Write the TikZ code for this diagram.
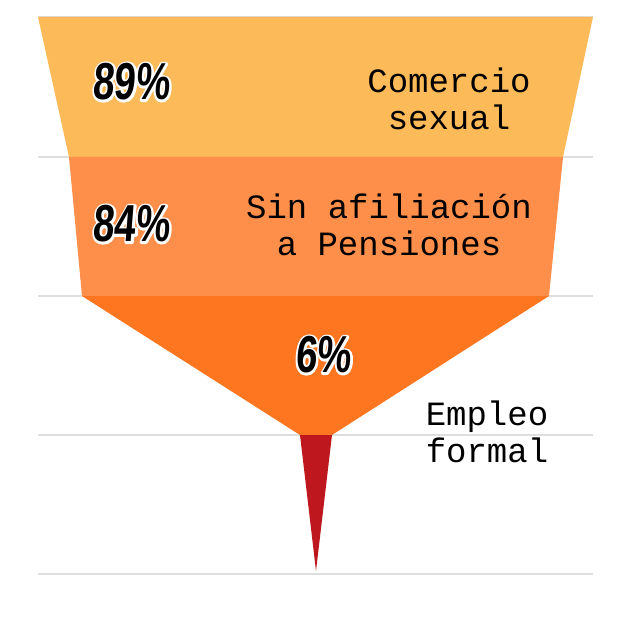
\documentclass[tikz,border=0pt]{standalone}
\usepackage{fontspec}
\newfontfamily\labelfont{Liberation Mono}
\newfontfamily\pctfont[FakeStretch=0.74,FakeSlant=0.08]{Liberation Sans}
% white outline drawn by the text render mode
\newcommand{\strokedtext}[1]{\special{pdf:literal direct 1 Tr 2.2 w 1 j 1 1 1 RG}#1\special{pdf:literal direct 0 Tr}}

\definecolor{bandA}{HTML}{FDBA58}
\definecolor{bandB}{HTML}{FE8F4A}
\definecolor{bandC}{HTML}{FE7620}
\definecolor{bandD}{HTML}{BE171E}
\definecolor{gridgray}{HTML}{DEDEDE}

\begin{document}
\begin{tikzpicture}[
    x=0.5pt, y=-0.5pt,
    gridline/.style={draw=gridgray, line width=1pt},
    pct/.style={font=\pctfont\bfseries\fontsize{26}{28}\selectfont, inner sep=0pt},
    stage/.style={font=\labelfont\fontsize{17}{18.5}\selectfont, align=center, inner sep=0pt}
]
\useasboundingbox (0,0) rectangle (620,620);

% Grid lines
\foreach \y in {17,157,296,435,574}
    \draw[gridline] (38,\y) -- (593,\y);

% Funnel bands
\fill[bandA] (38,17) -- (593,17) -- (563,157) -- (69,157) -- cycle;
\fill[bandB] (69,157) -- (563,157) -- (549,296) -- (82,296) -- cycle;
\fill[bandC] (82,296) -- (549,296) -- (332,435) -- (300,435) -- cycle;
\fill[bandD] (300,435) -- (332,435) -- (316,571) -- cycle;

% Percentages (outline first, then the figure)
\node[pct] (p89w) at (131,82) {\strokedtext{89\%}};
\node[pct] (p89) at (p89w) {89\%};
\node[pct] (p84w) at (131,224) {\strokedtext{84\%}};
\node[pct] (p84) at (p84w) {84\%};
\node[pct] (p6w) at (323,355) {\strokedtext{6\%}};
\node[pct] (p6) at (p6w) {6\%};

% Stage labels
\node[stage] (comercio) at (449,99) {Comercio\\sexual};
\node[stage] (pensiones) at (389,225) {Sin afiliación\\a Pensiones};
\node[stage] (empleo) at (487,432) {Empleo\\formal};

\end{tikzpicture}
\end{document}
